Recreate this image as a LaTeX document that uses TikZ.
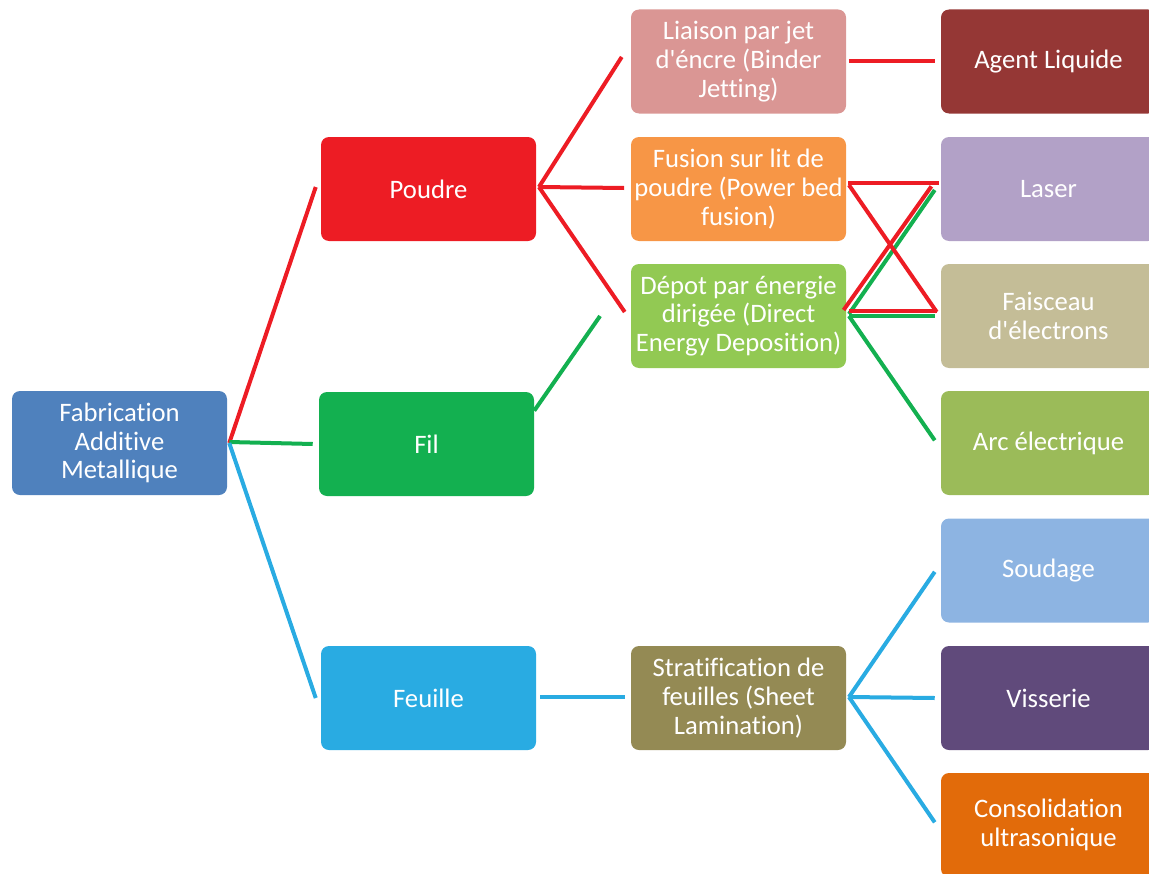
\documentclass[tikz,border=0pt]{standalone}
\usepackage{fontspec}
\setmainfont{Carlito}[Ligatures={NoCommon}]
\usetikzlibrary{positioning}

\definecolor{bleuFab}{HTML}{4F81BD}
\definecolor{rouge}{HTML}{ED1C24}
\definecolor{vert}{HTML}{13B050}
\definecolor{ciel}{HTML}{29ABE2}
\definecolor{rose}{HTML}{DA9694}
\definecolor{orange}{HTML}{F79646}
\definecolor{vertClair}{HTML}{92C953}
\definecolor{olive}{HTML}{948A54}
\definecolor{brique}{HTML}{953735}
\definecolor{lavande}{HTML}{B2A1C7}
\definecolor{sable}{HTML}{C4BD97}
\definecolor{vertArc}{HTML}{9BBB59}
\definecolor{bleuClair}{HTML}{8DB4E2}
\definecolor{violet}{HTML}{604A7B}
\definecolor{rouille}{HTML}{E26B0A}

\tikzset{
  boite/.style={rectangle, rounded corners=6pt, minimum width=161.25pt,
    minimum height=78pt, inner sep=1pt, align=center, text=white,
    font=\fontsize{20}{21.6}\selectfont},
  lien/.style={line width=3pt},
}

\begin{document}
\begin{tikzpicture}[x=0.75pt, y=-0.75pt]

\useasboundingbox (0,0) rectangle (1149,874);
\clip (0,0) rectangle (1149,874);

% niveaux
\node[boite, fill=bleuFab] (fab) at (119.5,443) {Fabrication\\Additive\\Metallique};

\node[boite, fill=rouge] (poudre) at (428.5,189) {Poudre};
\node[boite, fill=vert] (fil) at (426.5,444) {Fil};
\node[boite, fill=ciel] (feuille) at (428.5,698) {Feuille};

\node[boite, fill=rose] (liaison) at (738.5,61.5) {Liaison par jet\\d\textquotesingle éncre (Binder\\Jetting)};
\node[boite, fill=orange] (fusion) at (738.5,189) {Fusion sur lit de\\poudre (Power bed\\fusion)};
\node[boite, fill=vertClair] (depot) at (738.5,316) {Dépot par énergie\\dirigée (Direct\\Energy Deposition)};
\node[boite, fill=olive] (strat) at (738.5,698) {Stratification de\\feuilles (Sheet\\Lamination)};

\node[boite, fill=brique] (agent) at (1048.5,61.5) {Agent Liquide};
\node[boite, fill=lavande] (laser) at (1048.5,189) {Laser};
\node[boite, fill=sable] (faisceau) at (1048.5,316) {Faisceau\\d\textquotesingle électrons};
\node[boite, fill=vertArc] (arc) at (1048.5,443) {Arc électrique};
\node[boite, fill=bleuClair] (soudage) at (1048.5,570.5) {Soudage};
\node[boite, fill=violet] (visserie) at (1048.5,698) {Visserie};
\node[boite, fill=rouille] (consol) at (1048.5,825) {Consolidation\\ultrasonique};

% liens
\draw[lien, rouge] ([xshift=1.5pt]fab.east) -- ([xshift=-3.75pt,yshift=1.5pt]poudre.west);
\draw[lien, vert] ([xshift=1.5pt,yshift=0.75pt]fab.east) -- ([xshift=-4.5pt]fil.west);
\draw[lien, ciel] ([xshift=1.5pt]fab.east) -- ([xshift=-3.75pt]feuille.west);

\draw[lien, rouge] ([xshift=2pt,yshift=1.5pt]poudre.east) -- ([xshift=-6.75pt,yshift=3.4pt]liaison.west);
\draw[lien, rouge] ([xshift=2pt,yshift=1.5pt]poudre.east) -- ([xshift=-5pt,yshift=0.75pt]fusion.west);
\draw[lien, rouge] ([xshift=2pt,yshift=1.5pt]poudre.east) -- ([xshift=-4.5pt,yshift=3pt]depot.west);
\draw[lien, vert] ([xshift=0pt,yshift=25pt]fil.east) -- ([xshift=-23pt]depot.west);
\draw[lien, ciel] ([xshift=3pt,yshift=0.75pt]feuille.east) -- ([xshift=-4.5pt,yshift=0.75pt]strat.west);

\draw[lien, rouge] ([xshift=2pt]liaison.east) -- ([xshift=-4.5pt]agent.west);

\draw[lien, vert] ([xshift=2pt,yshift=1.5pt]depot.east) -- ([xshift=-4.5pt,yshift=-0.75pt]laser.west);
\draw[lien, vert] ([xshift=2pt]depot.east) -- ([xshift=-4.5pt]faisceau.west);
\draw[lien, vert] ([xshift=2pt]depot.east) -- ([xshift=-4.5pt,yshift=2pt]arc.west);

\draw[lien, rouge] ([xshift=1.5pt,yshift=4.5pt]fusion.east) -- ([xshift=-1.5pt,yshift=4.5pt]laser.west);
\draw[lien, rouge] ([xshift=2pt,yshift=3pt]fusion.east) -- ([xshift=-3pt,yshift=3pt]faisceau.west);
\draw[lien, rouge] ([xshift=-2pt,yshift=4.5pt]depot.east) -- ([xshift=-7pt,yshift=2pt]laser.west);
\draw[lien, rouge] ([xshift=2pt,yshift=3.5pt]depot.east) -- ([xshift=-3pt,yshift=3.5pt]faisceau.west);

\draw[lien, ciel] ([xshift=2pt,yshift=0.75pt]strat.east) -- ([xshift=-4.5pt,yshift=-1pt]soudage.west);
\draw[lien, ciel] ([xshift=2pt,yshift=0.75pt]strat.east) -- ([xshift=-4.5pt]visserie.west);
\draw[lien, ciel] ([xshift=2pt,yshift=0.75pt]strat.east) -- ([xshift=-4.5pt,yshift=2pt]consol.west);

\end{tikzpicture}
\end{document}
